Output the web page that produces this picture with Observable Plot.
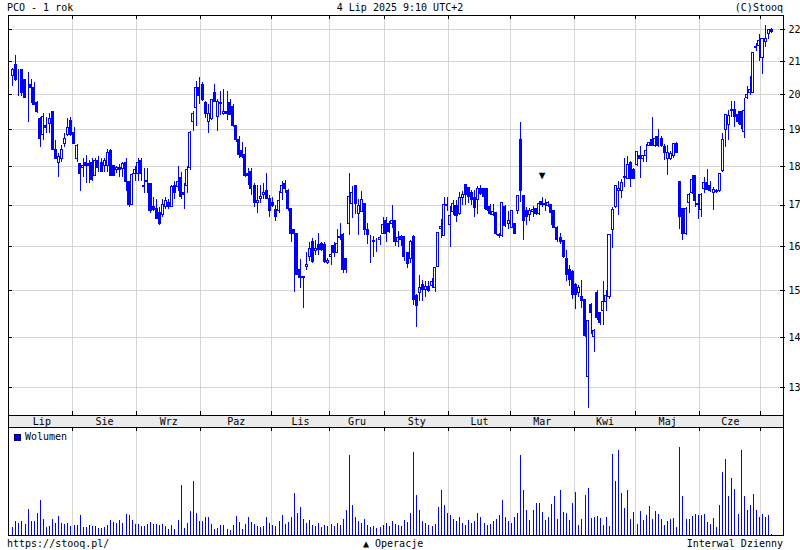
<!DOCTYPE html>
<html><head><meta charset="utf-8">
<script src="https://cdn.jsdelivr.net/npm/d3@7"></script>
<script src="https://cdn.jsdelivr.net/npm/@observablehq/plot@0.6"></script>
<style>
body{margin:0;background:#fff;}
#wrap{position:relative;width:800px;height:550px;font-family:"DejaVu Sans Mono",monospace;font-size:10px;color:#000;overflow:hidden;}
#wrap svg{position:absolute;left:0;}
.t{position:absolute;white-space:pre;line-height:10px;font-size:10px;}
</style></head><body><div id="wrap"></div>
<script>
// Daily OHLC, PCO, 4 Jul 2024 - 4 Jul 2025 (trading-day index)
const open = [
20.55,20.9,20.6,20.75,20.45,20.3,20.3,20.2,19.75,19.3,18.85,19.1,19.15,19.5,18.45,18.1,18.2,18.6,18.85,19.25,
18.9,18.2,18.05,17.97,18.1,18.05,18.1,17.75,18.15,18.1,18.0,18.0,18.4,18.0,17.9,17.95,17.92,18.1,17.6,17.0,17.8,
17.8,18.15,17.45,17.6,17.55,16.95,16.9,16.8,16.75,16.95,17.05,16.95,17.5,17.45,17.7,17.3,17.5,17.95,19.2,19.6,20.2,
20.3,19.75,19.2,19.3,20.05,19.35,19.75,19.45,19.5,19.75,19.65,19.1,18.7,18.4,18.3,17.8,17.85,17.5,17.05,17.15,17.25,17.35,17.15,
17.05,16.87,16.85,17.3,17.53,17.35,16.9,16.4,16.3,15.45,15.3,15.52,15.75,16.1,15.9,16.03,16.05,16.03,15.62,
15.75,16.0,15.85,16.2,16.27,15.7,16.55,17.02,17.48,16.78,16.82,17.03,16.4,16.1,16.1,16.12,16.15,16.3,
16.6,16.55,16.55,16.6,16.1,16.22,16.22,15.85,15.7,16.22,14.87,14.95,15.13,15.0,15.08,15.1,15.05,15.52,16.42,16.24,17.0,
16.52,16.82,16.98,16.78,17.17,17.51,17.44,17.32,17.17,17.12,17.4,17.4,17.4,16.95,16.75,16.8,16.28,16.25,16.95,16.55,
16.45,16.53,16.85,18.7,17.24,16.86,16.77,16.84,16.9,16.79,17.08,17.0,16.98,17.0,16.85,16.45,16.2,16.12,15.7,15.45,15.4,
15.12,14.95,14.85,14.79,13.2,14.68,14.0,14.95,14.5,14.55,14.75,14.85,16.39,16.95,17.37,17.37,17.7,17.68,18.08,17.9,
18.04,18.28,18.19,18.28,18.56,18.72,18.56,18.8,18.73,18.51,18.19,18.19,18.28,18.6,17.6,16.9,16.3,17.06,17.32,17.76,17.0,
16.87,17.4,17.57,17.48,17.32,17.33,17.35,17.87,19.0,19.12,19.52,19.55,19.4,19.5,18.92,19.9,20.06,20.06,21.45,21.5,
21.1,21.62,21.87,22.0];
const high = [
20.8,21.2,20.75,20.75,20.45,20.65,20.45,20.35,19.8,19.35,19.45,19.35,19.45,19.5,18.7,18.35,18.55,18.9,19.3,19.35,
19.05,18.6,18.05,18.2,18.3,18.15,18.2,18.2,18.25,18.2,18.2,18.45,18.45,18.0,18.0,18.05,18.1,18.2,17.6,17.8,18.0,
18.2,18.2,17.95,17.95,17.55,17.2,17.15,16.95,17.15,17.2,17.15,17.5,17.6,18.0,17.85,17.55,18.0,18.95,19.5,20.4,20.5,
20.35,19.8,19.7,19.85,20.3,19.85,20.1,20.15,20.1,19.85,19.7,19.1,18.8,18.65,18.5,17.95,17.95,17.55,17.5,17.5,17.55,17.8,17.25,
17.2,17.0,17.35,17.6,17.62,17.4,16.9,16.4,16.3,15.7,15.3,15.85,16.1,16.2,16.15,16.3,16.1,16.1,15.72,
16.02,16.1,16.4,16.55,16.3,15.7,17.8,17.48,17.48,17.14,17.34,17.03,16.55,16.27,16.23,16.2,16.27,16.7,
16.7,16.6,17.0,16.6,16.35,16.25,16.22,15.85,16.15,16.25,14.9,15.34,15.22,15.2,15.2,15.27,15.52,16.33,16.65,17.2,17.2,
16.98,17.12,17.12,17.32,17.34,17.53,17.46,17.38,17.38,17.48,17.5,17.42,17.42,17.02,17.02,16.8,16.3,17.08,17.0,16.85,
16.85,16.55,17.24,19.2,17.24,16.94,16.93,16.97,16.93,17.1,17.2,17.15,17.1,17.0,16.85,16.47,16.3,16.15,15.9,15.55,15.45,
15.15,15.1,15.22,14.8,14.33,14.72,14.16,15.0,14.5,15.2,15.0,16.28,16.95,17.48,17.6,17.65,18.2,18.25,18.13,17.94,
18.4,18.53,18.3,18.6,18.63,19.35,18.8,18.99,18.8,18.6,18.55,18.4,18.6,18.65,17.6,16.9,16.95,17.3,17.75,17.76,17.27,
17.3,17.7,17.92,17.6,17.45,17.4,17.8,18.9,19.4,19.55,19.8,19.8,19.5,19.5,19.9,20.25,20.55,21.25,21.55,21.85,
21.7,22.15,22.02,22.05];
const low = [
20.25,20.4,19.95,19.95,19.9,19.2,19.75,19.7,19.45,18.5,18.7,18.9,18.9,18.45,18.2,17.7,18.1,18.5,18.8,18.8,
18.6,18.1,17.35,17.7,17.55,17.55,17.6,17.75,17.85,17.85,17.85,17.85,17.75,17.75,17.8,17.7,17.7,17.35,16.95,17.0,17.6,
17.6,17.6,17.3,17.3,16.8,16.85,16.65,16.5,16.7,16.9,16.9,16.95,17.15,17.35,17.15,16.9,17.3,17.9,18.95,19.1,19.7,
19.8,19.3,18.9,19.25,19.8,18.95,19.4,19.4,19.25,19.4,19.05,18.65,18.2,18.2,17.7,17.5,17.25,16.95,16.8,17.05,17.15,17.15,16.7,
16.94,16.6,16.8,17.12,17.3,16.85,16.1,14.95,15.35,15.05,14.6,15.45,15.65,15.6,15.8,15.8,15.88,15.6,15.58,
15.57,15.75,15.83,16.15,15.37,15.37,16.25,16.66,16.78,16.27,16.82,16.27,16.05,15.6,15.75,15.85,16.03,16.3,
16.1,16.3,16.42,16.0,15.98,16.0,15.65,15.5,15.6,14.68,14.2,14.75,14.75,14.85,14.95,15.05,14.96,15.52,16.2,16.24,16.85,
15.97,16.74,16.58,16.74,17.0,17.0,17.05,17.0,16.7,16.78,17.25,16.9,16.85,16.75,16.72,16.25,16.2,16.22,16.45,16.4,
16.43,16.28,16.78,17.06,16.14,16.5,16.6,16.7,16.75,16.74,16.95,16.85,16.95,16.5,16.42,16.1,16.05,15.72,15.2,15.08,14.8,
14.58,14.85,14.6,14.0,12.6,14.05,13.7,14.35,14.25,14.25,14.55,14.81,15.95,16.92,16.75,17.18,17.45,17.68,17.45,17.68,
18.0,17.68,18.1,18.1,18.53,18.53,18.5,18.5,18.5,18.15,17.76,18.15,18.2,18.37,16.4,16.15,16.25,16.8,17.27,16.95,16.65,
16.7,17.3,17.38,17.33,16.86,17.3,17.33,17.83,18.5,18.7,19.35,19.05,19.15,19.0,18.75,19.87,19.98,20.06,21.3,21.0,
20.6,21.45,21.68,21.87];
const close = [
20.75,20.45,20.6,20.05,19.9,20.3,20.2,19.7,19.5,18.75,19.35,19.05,19.3,18.45,18.2,18.25,18.45,18.75,19.05,18.85,
18.6,18.55,17.8,18.0,18.0,18.0,17.65,18.15,17.95,17.85,18.15,18.35,17.75,17.75,17.95,17.9,18.05,17.6,17.0,17.78,17.9,
18.1,17.8,17.5,17.62,16.85,16.87,16.67,16.55,17.0,17.1,16.95,17.45,17.3,17.6,17.2,17.25,17.9,18.9,19.45,20.2,19.95,
19.85,19.45,19.45,19.85,19.8,19.8,19.72,19.5,19.45,19.4,19.1,18.7,18.3,18.25,17.75,17.75,17.4,17.05,17.1,17.2,17.3,17.15,16.85,
16.97,16.72,17.1,17.5,17.4,16.9,16.3,16.3,15.35,15.28,15.27,15.57,15.95,15.65,15.93,15.92,15.92,15.65,15.67,
15.8,15.85,16.05,16.23,15.46,15.46,17.2,17.3,17.02,16.97,17.12,16.4,16.27,16.1,16.12,16.12,16.2,16.52,
16.3,16.35,16.6,16.1,16.2,16.15,15.75,15.6,16.1,14.8,14.65,15.05,15.0,15.08,14.98,15.18,15.5,16.33,16.46,17.0,16.98,
16.74,17.02,16.74,17.17,17.27,17.25,17.2,17.14,16.94,17.4,17.28,17.2,16.88,16.78,16.83,16.3,16.25,17.06,16.5,16.6,
16.85,16.3,17.24,17.37,16.6,16.7,16.86,16.88,16.79,17.02,17.0,17.03,17.05,16.8,16.45,16.15,16.1,15.76,15.35,15.23,14.9,
14.9,15.05,14.76,14.03,14.33,14.5,14.14,14.4,14.3,14.75,14.88,16.28,16.88,17.48,17.4,17.57,17.73,18.04,17.68,17.68,
18.39,18.19,18.28,18.42,18.63,18.56,18.75,18.55,18.56,18.37,18.37,18.33,18.6,18.37,16.72,16.3,16.9,17.27,17.64,17.1,17.04,
17.25,17.57,17.38,17.35,17.38,17.35,17.8,18.7,19.4,19.39,19.55,19.35,19.2,19.12,19.52,20.0,20.15,21.25,21.42,21.65,
21.7,21.7,22.0,21.92];
// Volume (relative units)
const volume = [
8,14,12,14,11,26,14,14,22,35,16,8,9,16,12,19,12,11,12,9,
10,10,20,8,8,10,9,9,7,7,8,10,15,13,12,15,12,21,20,15,11,
11,9,9,11,13,11,11,10,11,9,6,10,6,15,50,7,12,24,54,22,
14,14,18,18,11,6,7,10,10,6,5,10,19,13,6,11,18,13,11,9,8,9,18,
12,10,9,14,20,11,13,18,42,22,28,16,12,15,10,9,12,8,10,9,
11,9,12,10,16,25,80,30,18,14,12,16,10,8,9,7,8,10,
12,9,14,11,10,9,15,13,22,83,40,25,14,12,10,9,11,28,45,30,22,
20,16,14,18,12,10,15,12,14,22,18,12,10,11,14,16,20,35,18,14,
12,18,22,80,45,25,15,
25,32,32,23,15,18,31,39,16,45,23,22,15,32,43,10,16,40,47,17,18,19,17,10,18,9,81,54,85,42,
27,45,16,23,11,24,15,20,29,16,24,21,16,10,14,16,17,8,88,39,16,16,19,21,20,20,21,13,11,17,
8,30,63,76,39,57,46,21,85,39,25,30,41,25,18,21,18,20,1];
const monthNames = ["Lip","Sie","Wrz","Paz","Lis","Gru","Sty","Lut","Mar","Kwi","Maj","Cze"];
const monthStarts = [0,20,41,62,85,104,122,143,163,184,204,225,245];
const priceTicks = [13,14,15,16,17,18,19,20,21,22];
const operacje = [173];

const data = close.map((c,i)=>({i, o:open[i], h:high[i], l:low[i], c, v:volume[i]}));
const up = data.filter(d=>d.c>=d.o), down = data.filter(d=>d.c<d.o);
const bounds = monthStarts.slice(1).map(s=>s-0.5);
const months = monthNames.map((n,k)=>({n, x:(monthStarts[k]+monthStarts[k+1]-1)/2}));
const xDomain = [-1.405, 251.86];
const BLUE = "#0000ff", GRID = "#d6d6d6";
const CR = "crispEdges";
const style = {background:"none", overflow:"visible", fontFamily:"'DejaVu Sans Mono', monospace", fontSize:"10px"};
const wrap = document.getElementById("wrap");
function place(el, top){ el.style.position="absolute"; el.style.left="0px"; el.style.top=top+"px"; wrap.appendChild(el); }

const A = Plot.plot({
  width:800, height:416, marginTop:15, marginBottom:1, marginLeft:8, marginRight:17,
  x:{type:"linear", domain:xDomain, axis:null},
  y:{type:"log", domain:[12.48,22.47], axis:null},
  style,
  marks:[
    Plot.ruleY(priceTicks, {stroke:GRID, shapeRendering:CR}),
    Plot.ruleX(bounds, {stroke:GRID, shapeRendering:CR}),
    Plot.ruleX(data, {x:"i", y1:"l", y2:"h", stroke:BLUE, shapeRendering:CR}),
    Plot.rect(up, {x1:d=>d.i-0.33, x2:d=>d.i+0.33, y1:"o", y2:"c", fill:"white", stroke:BLUE, shapeRendering:CR}),
    Plot.rect(down, {x1:d=>d.i-0.33, x2:d=>d.i+0.33, y1:"o", y2:"c", fill:BLUE, stroke:BLUE, shapeRendering:CR}),
    Plot.text(operacje, {x:d=>d, y:d=>high[d], text:()=>"▼", dy:-22, fontSize:11, fill:"black"}),
    Plot.ruleY(priceTicks, {stroke:"black", insetRight:771, shapeRendering:CR}),
    Plot.ruleY(priceTicks, {stroke:"black", insetLeft:772, insetRight:-2, shapeRendering:CR}),
    Plot.ruleX(bounds, {stroke:"black", insetBottom:396, shapeRendering:CR}),
    Plot.ruleX(bounds, {stroke:"black", insetTop:396, shapeRendering:CR}),
    Plot.text(priceTicks, {y:d=>d, text:d=>String(d), frameAnchor:"right", dx:5, textAnchor:"start", fontSize:10, fill:"black"}),
    Plot.frame({stroke:"black", shapeRendering:CR})
  ]
});
place(A, 0);

const B = Plot.plot({
  width:800, height:34, marginTop:11, marginBottom:11, marginLeft:8, marginRight:17,
  x:{type:"linear", domain:xDomain, axis:null},
  style,
  marks:[
    Plot.frame({fill:"#ebebeb", stroke:"black", shapeRendering:CR}),
    Plot.text(months, {x:"x", text:"n", frameAnchor:"middle", fontSize:10, fill:"black"})
  ]
});
place(B, 404);

const C = Plot.plot({
  width:800, height:120, marginTop:11, marginBottom:1, marginLeft:8, marginRight:17,
  x:{type:"linear", domain:xDomain, axis:null},
  y:{domain:[0,108], axis:null},
  style,
  marks:[
    Plot.ruleX(bounds, {stroke:GRID, shapeRendering:CR}),
    Plot.ruleX(data, {x:"i", y1:0, y2:"v", stroke:BLUE, shapeRendering:CR}),
    Plot.ruleX(bounds, {stroke:"black", insetBottom:104, shapeRendering:CR}),
    Plot.frame({stroke:"black", shapeRendering:CR})
  ]
});
place(C, 416);

function txt(s, css){ const d=document.createElement("div"); d.className="t"; d.textContent=s; Object.assign(d.style, css); wrap.appendChild(d); return d; }
txt("PCO - 1 rok", {left:"7px", top:"3px"});
txt("4 Lip 2025 9:10 UTC+2", {left:"0px", width:"800px", textAlign:"center", top:"3px"});
txt("(C)Stooq", {right:"17px", top:"3px"});
const sq=document.createElement("div");
Object.assign(sq.style,{position:"absolute", left:"14px", top:"434px", width:"5px", height:"5px", background:BLUE, border:"1px solid #000066"});
wrap.appendChild(sq);
txt("Wolumen", {left:"25px", top:"432px"});
txt("https://stooq.pl/", {left:"7px", top:"539px"});
txt("▲ Operacje", {left:"363px", top:"539px"});
txt("Interwal Dzienny", {right:"17px", top:"539px"});
</script></body></html>
